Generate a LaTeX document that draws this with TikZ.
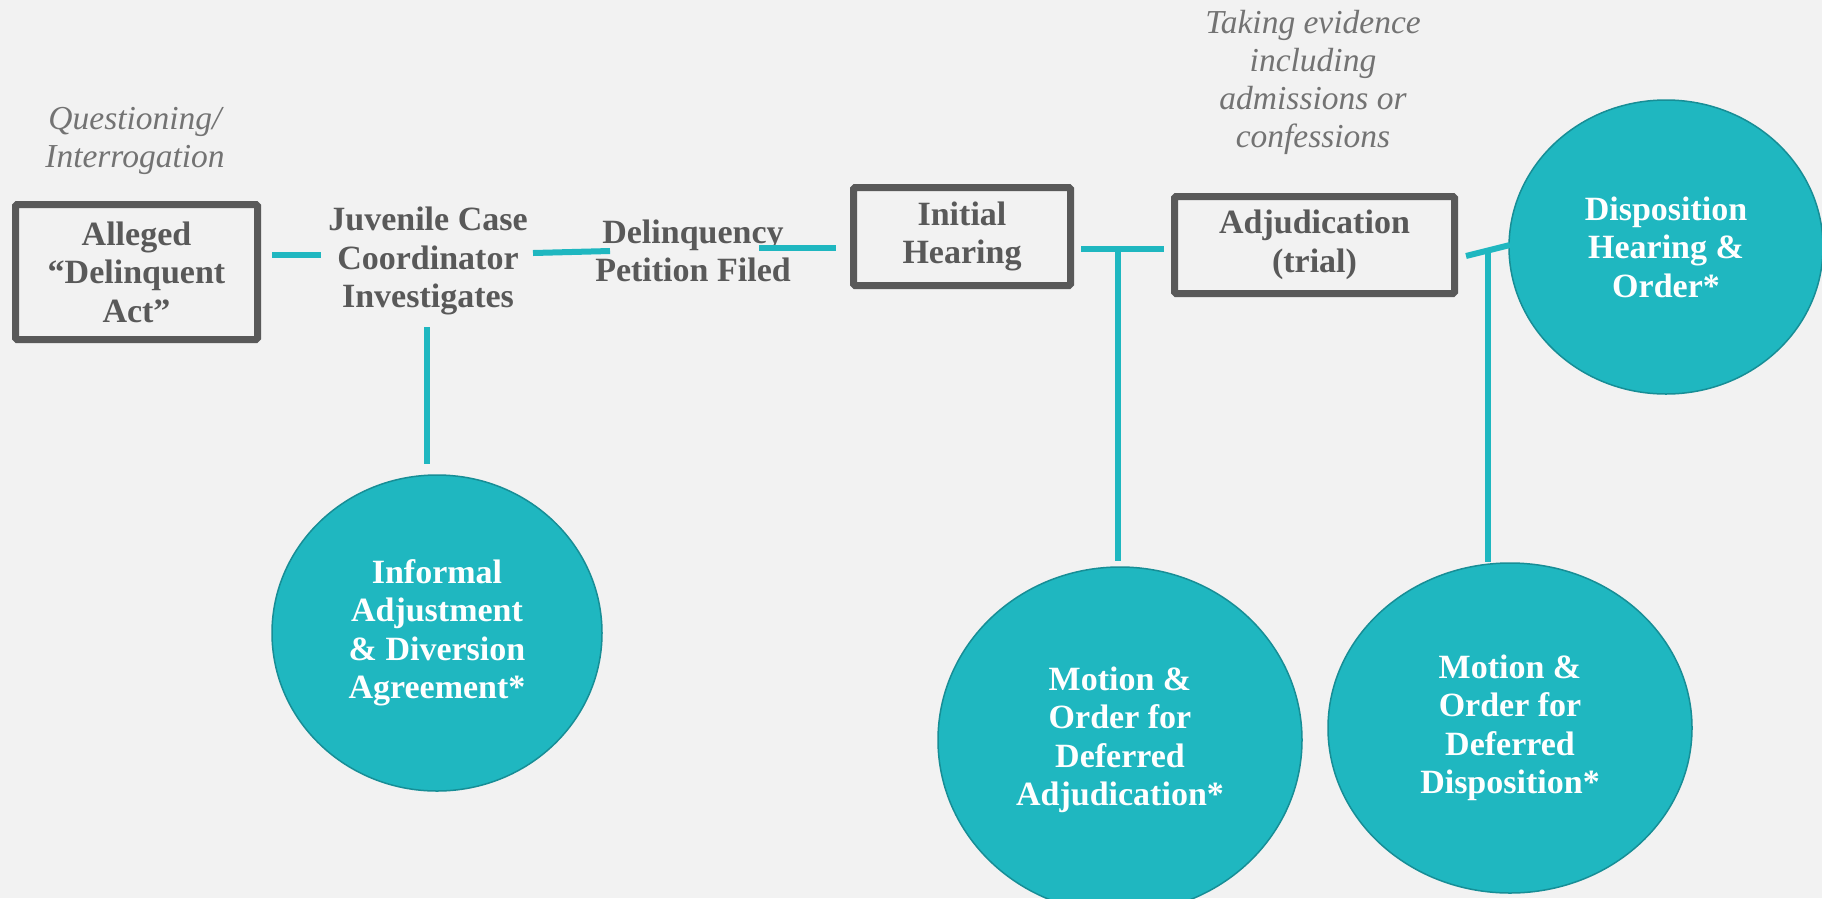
\documentclass[tikz,border=0pt]{standalone}
\usepackage{fontspec}
\setmainfont{Liberation Serif}
\usetikzlibrary{shapes.geometric}

\definecolor{paper}{HTML}{F2F2F2}
\definecolor{tealfill}{HTML}{1FB7C0}
\definecolor{tealedge}{HTML}{178E96}
\definecolor{ink}{HTML}{595959}
\definecolor{note}{HTML}{737373}

\tikzset{
  stagebox/.style={draw=ink, line width=7pt, rounded corners=1.5pt, inner sep=0pt,
    text=ink, align=center, font=\bfseries\fontsize{34}{38.5}\selectfont},
  steplabel/.style={inner sep=0pt, text=ink, align=center,
    font=\bfseries\fontsize{34}{38.5}\selectfont},
  aside/.style={inner sep=0pt, text=note, align=center,
    font=\itshape\fontsize{33.5}{38}\selectfont},
  outcome/.style={ellipse, fill=tealfill, draw=tealedge, line width=1.5pt,
    inner sep=0pt, text=white, align=center,
    font=\bfseries\fontsize{34}{38.5}\selectfont},
  link/.style={draw=tealfill, line width=6pt}
}

\begin{document}
\begin{tikzpicture}[x=1pt, y=-1pt]
  % page
  \fill[paper] (0,0) rectangle (1822,898);
  \useasboundingbox (0,0) rectangle (1822,898);

  % side notes
  \node[aside] (question) at (135,141) {Questioning/\\Interrogation};
  \node[aside] (evidence) at (1313,82) {Taking evidence\\including\\admissions or\\confessions};

  % main stages
  \node[stagebox, minimum width=242pt, minimum height=135pt] (alleged) at (136.5,272)
    {Alleged\\“Delinquent\\Act”};
  \node[steplabel] (coord) at (428,261) {Juvenile Case\\Coordinator\\Investigates};
  \node[steplabel] (petition) at (693,251) {Delinquency\\Petition Filed};
  \node[stagebox, minimum width=217pt, minimum height=98pt] (initial) at (962,236.5)
    {Initial\\Hearing};
  \node[stagebox, minimum width=280pt, minimum height=97pt] (adjud) at (1314.5,245)
    {Adjudication\\(trial)};

  % outcomes
  \node[outcome, minimum width=330pt, minimum height=316pt] (informal) at (437,633)
    {Informal\\Adjustment\\\& Diversion\\Agreement*};
  \node[outcome, minimum width=364pt, minimum height=346pt] (defadj) at (1120,740)
    {Motion \&\\Order for\\Deferred\\Adjudication*};
  \node[outcome, minimum width=364pt, minimum height=330pt] (defdisp) at (1510,728)
    {Motion \&\\Order for\\Deferred\\Disposition*};
  \node[outcome, minimum width=314pt, minimum height=294pt] (dispo) at (1666,247)
    {Disposition\\Hearing \&\\Order*};

  % connector ends
  \coordinate (c1a) at (272,255);   \coordinate (c1b) at (321,255);
  \coordinate (c2a) at (533,253);   \coordinate (c2b) at (610,251);
  \coordinate (c3a) at (759,248);   \coordinate (c3b) at (836,248);
  \coordinate (c4a) at (1081,249);  \coordinate (c4b) at (1164,249);
  \coordinate (c5a) at (1466,256);  \coordinate (c5b) at (1510,245);
  \coordinate (v1a) at (427,327);   \coordinate (v1b) at (427,464);
  \coordinate (v2a) at (1118,249);  \coordinate (v2b) at (1118,561);
  \coordinate (v3a) at (1488,251);  \coordinate (v3b) at (1488,562);

  % connectors
  \draw[link] (c1a) -- (c1b);
  \draw[link] (c2a) -- (c2b);
  \draw[link] (c3a) -- (c3b);
  \draw[link] (c4a) -- (c4b);
  \draw[link] (c5a) -- (c5b);
  \draw[link] (v1a) -- (v1b);
  \draw[link] (v2a) -- (v2b);
  \draw[link] (v3a) -- (v3b);
\end{tikzpicture}
\end{document}
